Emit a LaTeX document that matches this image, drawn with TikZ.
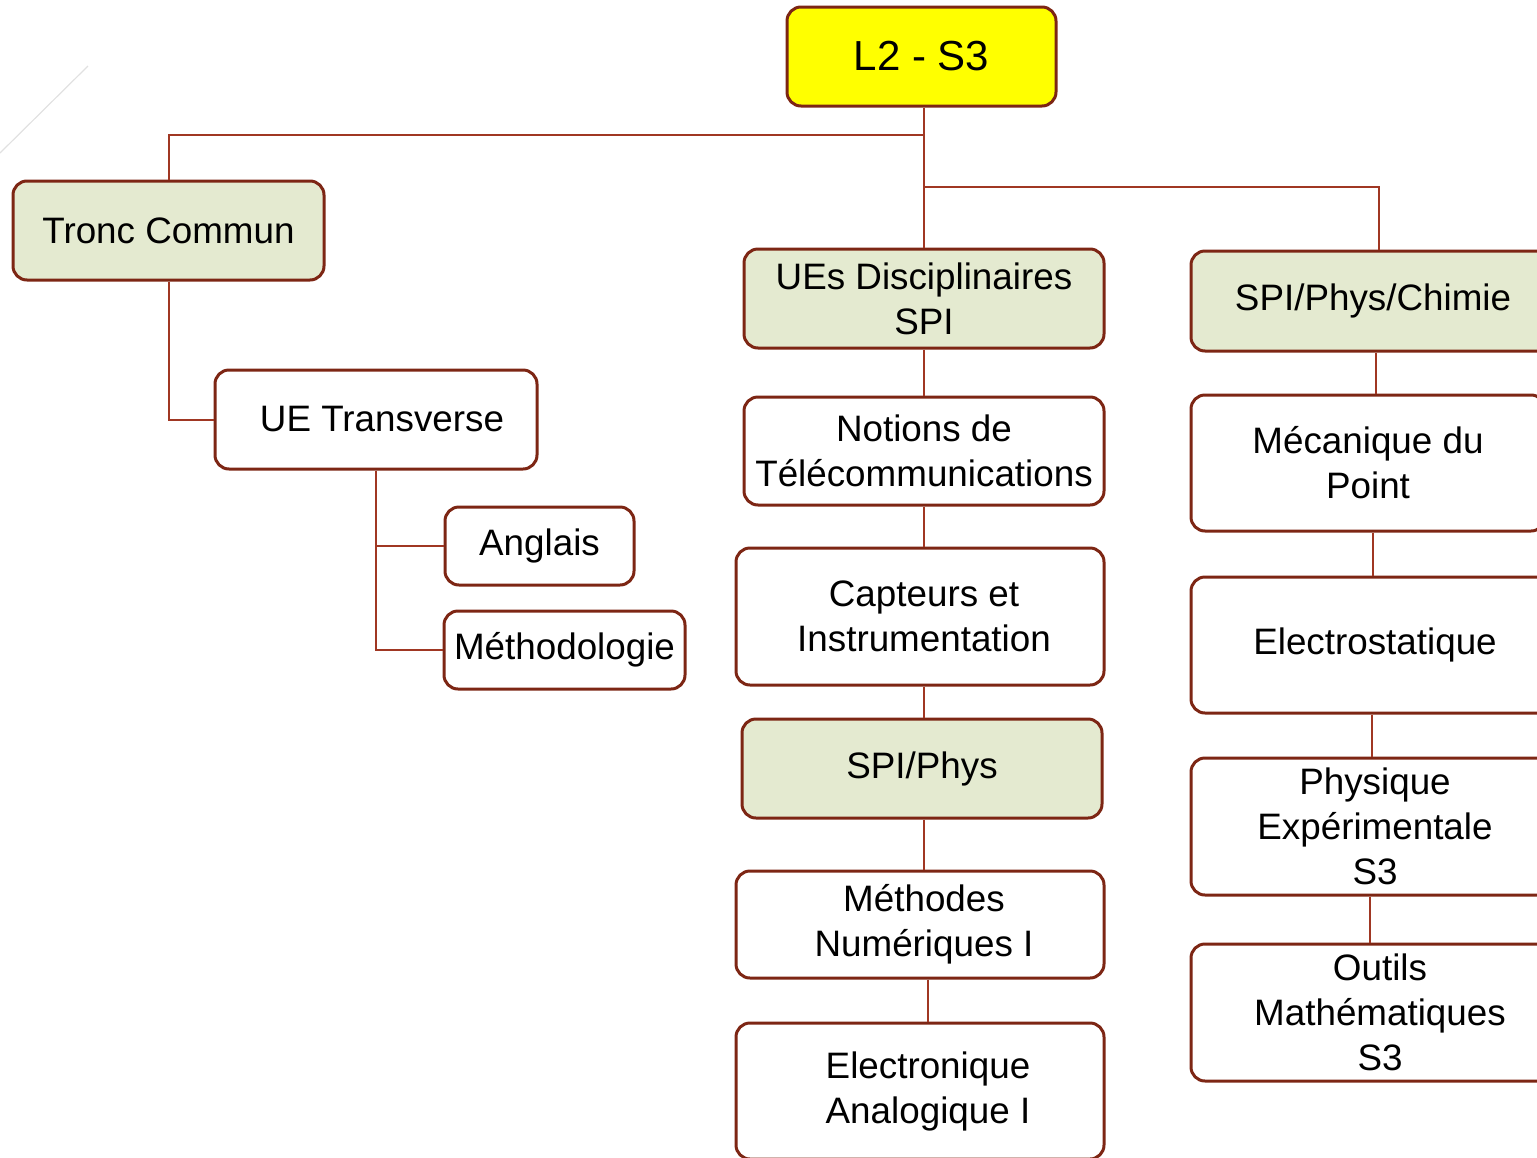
\documentclass[tikz,border=0pt]{standalone}
\usepackage{fontspec}
\setmainfont{Liberation Sans}
\definecolor{bordc}{RGB}{125,38,20}
\definecolor{connc}{RGB}{160,55,35}
\definecolor{grnc}{RGB}{228,234,208}
\definecolor{yelc}{RGB}{255,255,0}
\definecolor{faintc}{RGB}{225,225,225}
\begin{document}
\begin{tikzpicture}[x=0.5pt,y=-0.5pt,
  box/.style={draw=bordc, line width=1.5pt, rounded corners=7pt, inner sep=0pt, align=center,
    font=\fontsize{18.4}{22.5}\selectfont},
  grn/.style={box, fill=grnc},
  wht/.style={box, fill=white},
  conn/.style={draw=connc, line width=1pt}]
\useasboundingbox (0,0) rectangle (1537,1157);
\draw[draw=faintc, line width=0.6pt] (0,153) -- (88,66);

% nodes
\node[box, fill=yelc, minimum width=134.5pt, minimum height=49.5pt, font=\fontsize{21}{25}\selectfont] (top) at (921.5,56.5) {L2 - S3};
\node[grn, minimum width=155.5pt, minimum height=49.5pt] (tronc) at (168.5,230.5) {Tronc Commun};
\node[wht, minimum width=161pt, minimum height=49.5pt] (uet) at (376,419.5) {\hspace{6pt}UE Transverse};
\node[wht, minimum width=94.5pt, minimum height=39pt] (ang) at (539.5,546) {Anglais};
\node[wht, minimum width=120.5pt, minimum height=39pt] (meth) at (564.5,650) {Méthodologie};

\node[grn, minimum width=180pt, minimum height=49.5pt] (ues) at (924,298.5) {UEs Disciplinaires\\SPI};
\node[wht, minimum width=180pt, minimum height=54pt] (notions) at (924,451) {Notions de\\Télécommunications};
\node[wht, minimum width=184pt, minimum height=68.5pt] (capt) at (920,616.5) {\hspace{4pt}Capteurs et\\\hspace{4pt}Instrumentation};
\node[grn, minimum width=180pt, minimum height=49.5pt] (spiphys) at (922,768.5) {SPI/Phys};
\node[wht, minimum width=184pt, minimum height=53.5pt] (methn) at (920,924.5) {\hspace{4pt}Méthodes\\\hspace{4pt}Numériques I};
\node[wht, minimum width=184pt, minimum height=68pt] (elec) at (920,1091) {\hspace{8pt}Electronique\\\hspace{8pt}Analogique I};

\node[grn, minimum width=182pt, minimum height=50pt] (spc) at (1373,301) {SPI/Phys/Chimie};
\node[wht, minimum width=177pt, minimum height=68pt] (meca) at (1368,463) {Mécanique du\\Point};
\node[wht, minimum width=184pt, minimum height=68pt] (elst) at (1375,645) {Electrostatique};
\node[wht, minimum width=184pt, minimum height=68.5pt] (phys) at (1375,826.5) {Physique\\Expérimentale\\S3};
\node[wht, minimum width=189pt, minimum height=68.5pt] (outils) at (1380,1012.5) {Outils\\Mathématiques\\S3};

% helper coordinates
\coordinate (b1) at (924,135);
\coordinate (b2) at (924,187);
\coordinate (xa) at (1379,0);
\coordinate (xb) at (1376,0);
\coordinate (xc) at (1373,0);
\coordinate (xd) at (1372,0);
\coordinate (xe) at (1370,0);
\coordinate (xm) at (924,0);
\coordinate (xn) at (928,0);

% connectors
\draw[conn] (top.south -| ues.north) -- (ues.north);
\draw[conn] (b1) -| (tronc.north);
\draw[conn] (b2) -| (spc.north -| xa);
\draw[conn] (tronc.south) |- (uet.west);
\draw[conn] (uet.south) |- (ang.west);
\draw[conn] (uet.south) |- (meth.west);

\draw[conn] (ues.south) -- (notions.north);
\draw[conn] (notions.south) -- (capt.north -| xm);
\draw[conn] (capt.south -| xm) -- (spiphys.north -| xm);
\draw[conn] (spiphys.south -| xm) -- (methn.north -| xm);
\draw[conn] (methn.south -| xn) -- (elec.north -| xn);

\draw[conn] (spc.south -| xb) -- (meca.north -| xb);
\draw[conn] (meca.south -| xc) -- (elst.north -| xc);
\draw[conn] (elst.south -| xd) -- (phys.north -| xd);
\draw[conn] (phys.south -| xe) -- (outils.north -| xe);
\end{tikzpicture}
\end{document}
